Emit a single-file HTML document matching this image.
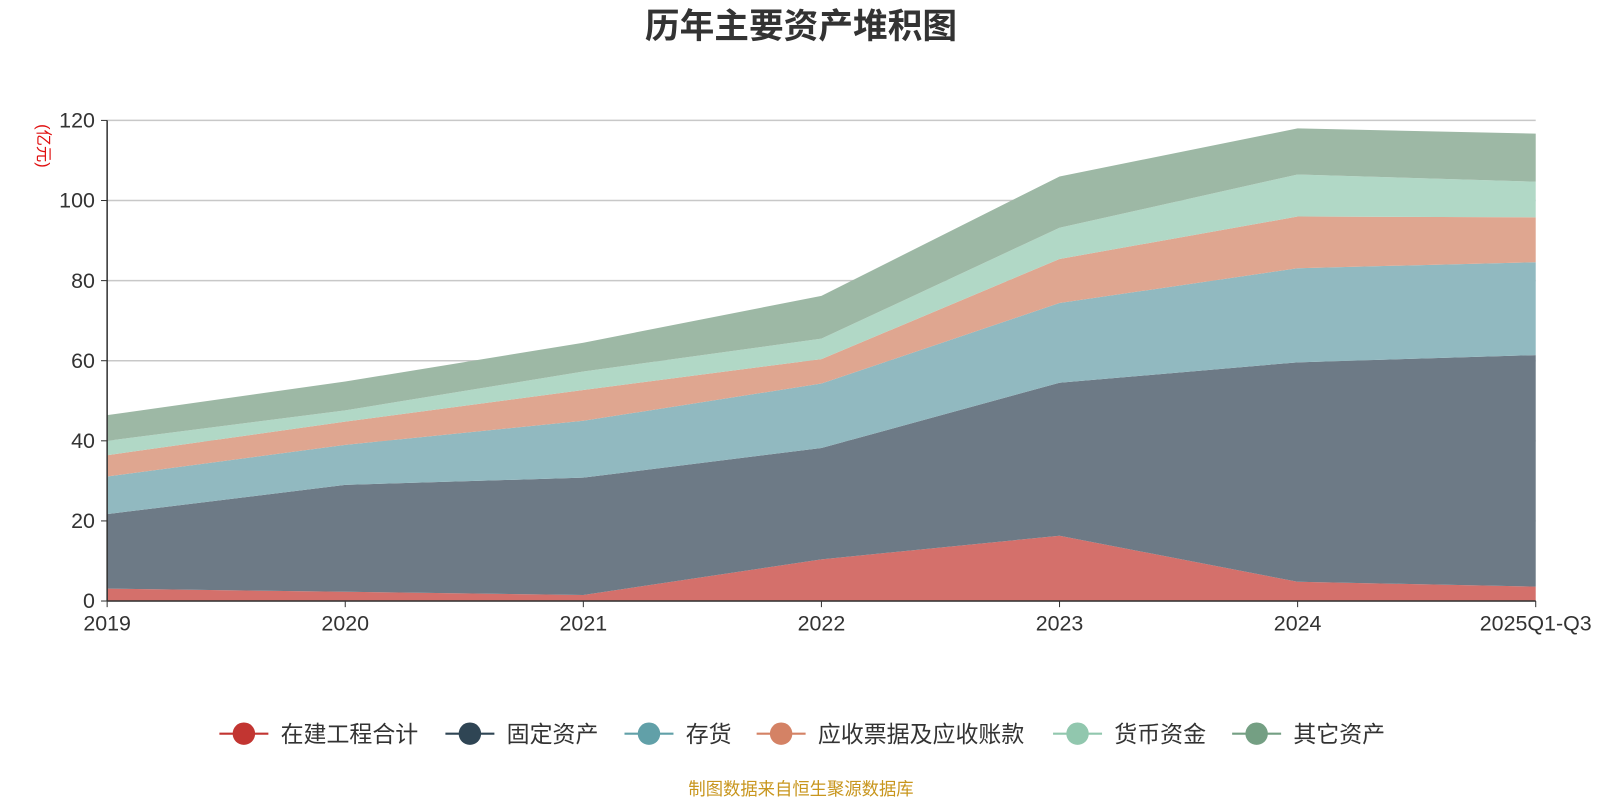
<!DOCTYPE html>
<html><head><meta charset="utf-8"><style>
body{margin:0;background:#fff;font-family:"Liberation Sans","Noto Sans CJK SC",sans-serif;}
svg text{font-family:"Liberation Sans","Noto Sans CJK SC",sans-serif;}
</style></head><body>
<svg id="chart" width="1600" height="800" viewBox="0 0 1568 784" preserveAspectRatio="none" xmlns="http://www.w3.org/2000/svg">
<text x="785" y="37" text-anchor="middle" font-size="34" font-weight="bold" fill="#333">历年主要资产堆积图</text>
<text transform="translate(37,143) rotate(90)" text-anchor="middle" font-size="16" fill="#e01010">(亿元)</text>
<g id="grid"></g><g id="areas"></g><g id="axes"></g><g id="legend"></g>
<text x="785" y="779" text-anchor="middle" font-size="17" fill="#c8961e">制图数据来自恒生聚源数据库</text>
</svg>
<script>
const categories=["2019","2020","2021","2022","2023","2024","2025Q1-Q3"];
const seriesNames=["在建工程合计","固定资产","存货","应收票据及应收账款","货币资金","其它资产"];
const cip=[3.1,2.3,1.5,10.4,16.3,4.8,3.6];
const fixedAssets=[18.6,26.7,29.3,27.8,38.2,54.8,57.8];
const inventory=[9.4,10.0,14.2,16.1,19.9,23.5,23.2];
const receivables=[5.3,5.8,7.7,6.1,11.0,12.9,11.2];
const cash=[3.6,2.8,4.6,5.1,7.8,10.5,8.9];
const otherAssets=[6.4,7.2,7.2,10.7,12.8,11.5,12.0];
const yTicks=[0,20,40,60,80,100,120];
const series=[cip,fixedAssets,inventory,receivables,cash,otherAssets];
const areaColors=["#d4706b","#6d7a86","#91b9c0","#dfa690","#b1d8c6","#9db8a5"];
const iconColors=["#c23531","#2f4554","#61a0a8","#d48265","#91c7ae","#749f83"];
const NS="http://www.w3.org/2000/svg";
const X0=105,X1=1505,Y0=589,Y1=118,YMAX=120;
const xs=i=>X0+(X1-X0)*i/(categories.length-1);
const ys=v=>Y0-(Y0-Y1)*v/YMAX;
function mk(t,a,p){const e=document.createElementNS(NS,t);for(const k in a)e.setAttribute(k,a[k]);p.appendChild(e);return e;}
const grid=document.getElementById('grid'),areas=document.getElementById('areas'),axes=document.getElementById('axes'),legend=document.getElementById('legend');
yTicks.forEach(t=>{
 const l=mk('line',{x1:X0,x2:X1,y1:ys(t),y2:ys(t),stroke:'#c8c8c8','stroke-width':1.5},grid);
 
 
 const tx=mk('text',{x:X0-12,y:ys(t)+7,'text-anchor':'end','font-size':21,fill:'#333'},axes);tx.textContent=t;
 
 
 mk('line',{x1:X0-6,x2:X0,y1:ys(t),y2:ys(t),stroke:'#333'},axes);
});
let base=categories.map(()=>0);
series.forEach((s,si)=>{
 const top=base.map((b,i)=>b+s[i]);
 let d='M'+categories.map((c,i)=>xs(i)+','+ys(top[i])).join('L');
 for(let i=categories.length-1;i>=0;i--)d+='L'+xs(i)+','+ys(base[i]);
 const p=mk('path',{d:d+'Z',fill:areaColors[si]},areas);
 
 
 base=top;
});
mk('line',{x1:X0,x2:X0,y1:Y1,y2:Y0,stroke:'#333','stroke-width':1.5},axes);
mk('line',{x1:X0,x2:X1,y1:Y0,y2:Y0,stroke:'#333','stroke-width':1.5},axes);
categories.forEach((c,i)=>{
 mk('line',{x1:xs(i),x2:xs(i),y1:Y0,y2:Y0+6,stroke:'#333'},axes);
 const t=mk('text',{x:xs(i),y:Y0+29,'text-anchor':'middle','font-size':21,fill:'#333'},axes);t.textContent=c;
 
 
});
let lx=215;
seriesNames.forEach((n,i)=>{
 const g=mk('g',{},legend);
 
 
 mk('line',{x1:lx,x2:lx+48,y1:719,y2:719,stroke:iconColors[i],'stroke-width':2},g);
 mk('circle',{cx:lx+24,cy:719,r:11,fill:iconColors[i]},g);
 const t=mk('text',{x:lx+60,y:727,'font-size':22.5,fill:'#333'},g);t.textContent=n;
 lx+=60+n.length*23+23.5;
});
</script>
</body></html>
